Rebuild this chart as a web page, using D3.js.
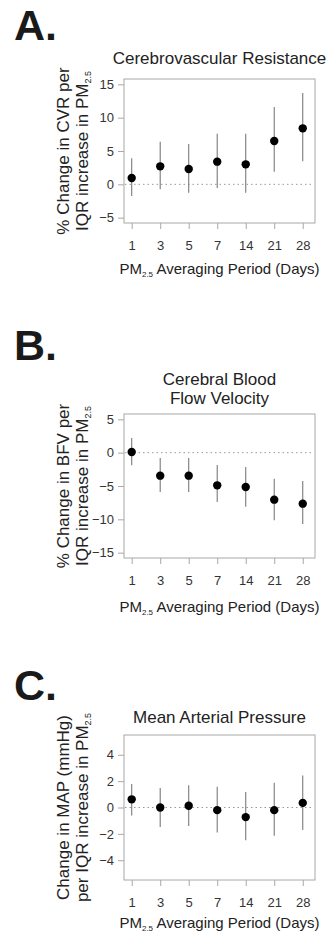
<!DOCTYPE html>
<html>
<head>
<meta charset="utf-8">
<script src="https://cdn.jsdelivr.net/npm/d3@7"></script>
<style>
  html, body { margin: 0; padding: 0; background: #fff; }
  svg { display: block; font-family: "Liberation Sans", Arial, Helvetica, sans-serif; }
</style>
</head>
<body>
<svg id="chart" width="331" height="935"></svg>
<script>
// ---- data ----
const periods = ["1", "3", "5", "7", "14", "21", "28"];

const cvrEst = [0.95, 2.7, 2.3, 3.4, 3.0, 6.5, 8.4];
const cvrLo  = [-1.75, -0.75, -1.25, -0.55, -1.25, 1.9, 3.45];
const cvrHi  = [3.9, 6.4, 6.05, 7.6, 7.6, 11.6, 13.7];

const bfvEst = [0.1, -3.45, -3.45, -4.9, -5.15, -7.05, -7.65];
const bfvLo  = [-1.9, -5.9, -5.9, -7.4, -8.1, -10.15, -10.7];
const bfvHi  = [2.2, -0.8, -0.8, -1.85, -2.15, -3.9, -4.25];

const mapEst = [0.62, 0.0, 0.13, -0.2, -0.73, -0.2, 0.35];
const mapLo  = [-0.6, -1.48, -1.4, -1.9, -2.48, -2.15, -1.7];
const mapHi  = [1.78, 1.48, 1.68, 1.58, 1.18, 1.88, 2.43];

const cvrTicks = [-5, 0, 5, 10, 15];
const bfvTicks = [-15, -10, -5, 0, 5];
const mapTicks = [-4, -2, 0, 2, 4];

const panelLetters = ["A.", "B.", "C."];
const titlesA = ["Cerebrovascular Resistance"];
const titlesB = ["Cerebral Blood", "Flow Velocity"];
const titlesC = ["Mean Arterial Pressure"];
const yLabA = ["% Change in CVR per", "IQR increase in PM"];
const yLabB = ["% Change in BFV per", "IQR increase in PM"];
const yLabC = ["Change in MAP (mmHg)", "per IQR increase in PM"];
const xLabMain = "PM";
const xLabSub = "2.5";
const xLabRest = " Averaging Period (Days)";

// ---- layout ----
const panels = [
  { letter: panelLetters[0], letterY: 40, titles: titlesA, titleY: 64, top: 79, bottom: 223,
    yDomain: [-5.8, 15.8], ticks: cvrTicks, ylab: yLabA, xTitleY: 274,
    est: cvrEst, lo: cvrLo, hi: cvrHi },
  { letter: panelLetters[1], letterY: 360, titles: titlesB, titleY: 385, top: 414, bottom: 558,
    yDomain: [-15.8, 5.8], ticks: bfvTicks, ylab: yLabB, xTitleY: 612,
    est: bfvEst, lo: bfvLo, hi: bfvHi },
  { letter: panelLetters[2], letterY: 700, titles: titlesC, titleY: 723, top: 735, bottom: 880,
    yDomain: [-5.5, 5.5], ticks: mapTicks, ylab: yLabC, xTitleY: 928,
    est: mapEst, lo: mapLo, hi: mapHi }
];

const svg = d3.select("#chart");
const left = 124, right = 315;
const x = d3.scaleLinear().domain([-0.27, 6.43]).range([left, right]);
const idx = d3.range(periods.length);
const textCol = "#222";
const axisCol = "#a8a8a8";

panels.forEach(p => {
  const g = svg.append("g");
  const y = d3.scaleLinear().domain(p.yDomain).range([p.bottom, p.top]);

  // panel letter
  g.append("text").attr("x", 14).attr("y", p.letterY)
    .attr("font-size", 43).attr("font-weight", "bold").attr("fill", "#1a1a1a")
    .text(p.letter);

  // title
  p.titles.forEach((t, i) => {
    g.append("text").attr("x", (left + right) / 2).attr("y", p.titleY + i * 19)
      .attr("text-anchor", "middle").attr("font-size", 17).attr("fill", textCol)
      .text(t);
  });

  // y axis
  const ya = g.append("g").attr("transform", `translate(${left},0)`)
    .call(d3.axisLeft(y).tickValues(p.ticks).tickSize(6).tickPadding(4).tickFormat(d3.format("d")));
  ya.select(".domain").remove();
  ya.selectAll(".tick line").attr("stroke", axisCol);
  ya.selectAll(".tick text").attr("font-size", 13).attr("fill", "#333")
    .attr("font-family", "Liberation Sans, Arial, sans-serif");

  // x axis
  const xa = g.append("g").attr("transform", `translate(0,${p.bottom})`)
    .call(d3.axisBottom(x).tickValues(idx).tickSize(6).tickPadding(12).tickFormat(i => periods[i]));
  xa.select(".domain").remove();
  xa.selectAll(".tick line").attr("stroke", axisCol);
  xa.selectAll(".tick text").attr("font-size", 13).attr("fill", "#333")
    .attr("font-family", "Liberation Sans, Arial, sans-serif");

  // box
  g.append("rect").attr("x", left).attr("y", p.top)
    .attr("width", right - left).attr("height", p.bottom - p.top)
    .attr("fill", "none").attr("stroke", axisCol).attr("stroke-width", 1);

  // zero line
  g.append("line").attr("x1", left + 1).attr("x2", right - 1)
    .attr("y1", y(0)).attr("y2", y(0))
    .attr("stroke", "#999").attr("stroke-width", 1).attr("stroke-dasharray", "1.5,3");

  // CI lines
  g.selectAll(".ci").data(idx).enter().append("line")
    .attr("x1", i => x(i)).attr("x2", i => x(i))
    .attr("y1", i => y(p.lo[i])).attr("y2", i => y(p.hi[i]))
    .attr("stroke", "#7a7a7a").attr("stroke-width", 1.1);

  // points
  g.selectAll(".pt").data(idx).enter().append("circle")
    .attr("cx", i => x(i)).attr("cy", i => y(p.est[i])).attr("r", 4.2)
    .attr("fill", "#000");

  // y label (rotated, two lines, subscript on 2nd)
  const cy = (p.top + p.bottom) / 2;
  g.append("text").attr("transform", `translate(69,${cy}) rotate(-90)`)
    .attr("text-anchor", "middle").attr("font-size", 17).attr("fill", textCol)
    .text(p.ylab[0]);
  const yl2 = g.append("text").attr("transform", `translate(88,${cy}) rotate(-90)`)
    .attr("text-anchor", "middle").attr("font-size", 17).attr("fill", textCol);
  yl2.append("tspan").text(p.ylab[1]);
  yl2.append("tspan").attr("font-size", 9).attr("dy", 3).text("2.5");

  // x title
  const xt = g.append("text").attr("x", (left + right) / 2).attr("y", p.xTitleY)
    .attr("text-anchor", "middle").attr("font-size", 15).attr("fill", textCol);
  xt.append("tspan").text(xLabMain);
  xt.append("tspan").attr("font-size", 8).attr("dy", 3).text(xLabSub);
  xt.append("tspan").attr("dy", -3).text(xLabRest);
});
</script>
</body>
</html>
